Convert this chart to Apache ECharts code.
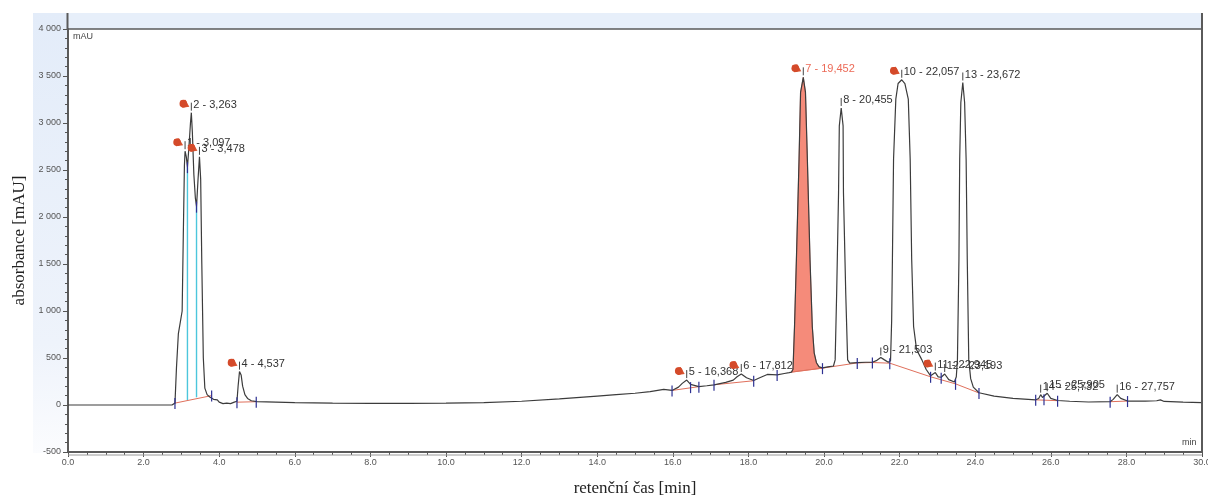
<!DOCTYPE html>
<html>
<head>
<meta charset="utf-8">
<script src="https://cdn.jsdelivr.net/npm/echarts@6/dist/echarts.min.js"></script>
<style>
  html, body { margin: 0; padding: 0; background: #ffffff; }
  #chart { width: 1208px; height: 496px; }
</style>
</head>
<body>
<div id="chart"></div>
<script>
// Chromatogram trace: retention time [min] and absorbance [mAU]
const traceTime = [
  0.00, 2.75, 2.80, 2.83, 2.87, 2.92, 2.97, 3.02, 3.05, 3.08, 3.097, 3.13, 3.16, 3.20, 3.24, 3.263,
  3.29, 3.33, 3.37, 3.40, 3.44, 3.478, 3.51, 3.54, 3.58, 3.62, 3.68, 3.75, 3.80, 3.85, 3.90, 3.95,
  4.00, 4.10, 4.20, 4.30, 4.40, 4.47, 4.50, 4.537, 4.58, 4.62, 4.68, 4.75, 4.85, 5.00, 5.50, 6.00,
  7.00, 8.00, 9.00, 10.00, 11.00, 12.00, 13.00, 14.00, 14.50, 15.00, 15.40, 15.76, 15.98, 16.15,
  16.25, 16.368, 16.47, 16.69, 16.90, 17.09, 17.40, 17.60, 17.70, 17.812, 17.95, 18.14, 18.30, 18.50,
  18.76, 18.95, 19.08, 19.14, 19.18, 19.22, 19.27, 19.34, 19.38, 19.452, 19.51, 19.56, 19.63, 19.69,
  19.74, 19.80, 19.87, 19.96, 20.10, 20.25, 20.295, 20.335, 20.385, 20.405, 20.455, 20.505, 20.515,
  20.575, 20.625, 20.68, 20.88, 21.10, 21.28, 21.40, 21.503, 21.60, 21.70, 21.76, 21.79, 21.81,
  21.84, 21.90, 21.96, 22.057, 22.14, 22.23, 22.28, 22.32, 22.37, 22.45, 22.59, 22.70, 22.82,
  22.945, 23.02, 23.10, 23.193, 23.30, 23.45, 23.50, 23.53, 23.57, 23.59, 23.62, 23.672, 23.72,
  23.76, 23.79, 23.83, 23.88, 23.95, 24.10, 24.50, 25.00, 25.60, 25.68, 25.732, 25.78, 25.82,
  25.905, 26.00, 26.18, 26.50, 27.00, 27.57, 27.65, 27.757, 27.85, 28.03, 28.50, 28.80, 28.90,
  29.00, 29.50, 30.00
];
const traceMau = [
  0, 0, 5, 20, 400, 760, 880, 1000, 1800, 2550, 2700, 2640, 2530, 2750, 3000, 3110,
  2900, 2450, 2200, 2110, 2400, 2640, 2400, 1500, 500, 180, 110, 85, 95, 60, 40, 55,
  30, 15, 20, 15, 30, 40, 200, 355, 320, 200, 110, 70, 45, 35, 30, 25,
  20, 18, 18, 20, 25, 40, 65, 95, 110, 125, 142, 167, 155, 190,
  230, 265, 220, 195, 205, 215, 240, 265, 300, 330, 290, 260, 290, 325,
  320, 335, 345, 350, 380, 835, 1547, 2614, 3325, 3486, 3325, 2614, 1547, 835,
  555, 450, 405, 395, 405, 415, 480, 1191, 2258, 2970, 3160, 2970, 2258,
  1191, 480, 445, 450, 455, 455, 475, 505, 480, 455, 470, 900, 1547,
  2614, 3254, 3420, 3460, 3420, 3254, 2614, 1547, 835, 587, 480, 380, 310,
  345, 300, 295, 330, 270, 245, 300, 480, 1547, 2614, 3218, 3431, 3218,
  2614, 1547, 480, 280, 190, 130, 95, 70, 55, 70, 110, 80, 75,
  125, 70, 48, 40, 32, 35, 60, 110, 70, 42, 42, 45, 55,
  38, 30, 25
];

// Integrated peaks: number, retention time, apex height, flagged
const peakNo     = [1, 2, 3, 4, 5, 6, 7, 8, 9, 10, 11, 12, 13, 14, 15, 16];
const peakTime   = [3.097, 3.263, 3.478, 4.537, 16.368, 17.812, 19.452, 20.455, 21.503, 22.057, 22.945, 23.193, 23.672, 25.732, 25.905, 27.757];
const peakHeight = [2700, 3110, 2640, 355, 265, 330, 3486, 3160, 505, 3460, 345, 330, 3431, 110, 125, 110];
const peakFlag   = [true, true, true, true, true, true, true, false, false, true, true, false, false, false, false, false];
const selectedPeak = 7;

// Integration baselines (each list is one drawn baseline)
const baselines = [
  [[2.83, 20], [3.80, 100]],
  [[4.47, 30], [4.98, 35]],
  [[15.98, 155], [16.69, 195]],
  [[17.09, 215], [18.14, 258]],
  [[19.14, 350], [19.96, 392], [20.88, 448], [21.28, 452], [21.74, 445], [22.82, 300], [23.48, 225], [24.10, 128]],
  [[25.60, 55], [26.18, 46]],
  [[27.57, 35], [28.03, 42]]
];

// Peak start / end markers
const markTime = [2.83, 3.16, 3.40, 3.80, 4.47, 4.98, 15.98, 16.47, 16.69, 17.09, 18.14, 18.76, 19.96, 20.88, 21.28, 21.74, 22.82, 23.10, 23.48, 24.10, 25.60, 25.82, 26.18, 27.57, 28.03];
const markMau  = [20, 2530, 2110, 100, 30, 35, 155, 190, 195, 215, 258, 320, 392, 448, 452, 445, 300, 290, 225, 128, 55, 60, 46, 35, 42];

// Perpendicular drops between fused peaks 1-2-3
const dropTime = [3.16, 3.40];
const dropTop  = [2530, 2110];
const dropBase = [50, 82];

const yTicks = [-500, 0, 500, 1000, 1500, 2000, 2500, 3000, 3500, 4000];

function fmtThousands(v) {
  const s = Math.abs(v).toString().replace(/\B(?=(\d{3})+(?!\d))/g, ' ');
  return (v < 0 ? '-' : '') + s;
}

const traceData = traceTime.map((t, i) => [t, traceMau[i]]);

// Fill region of the selected peak: trace above its baseline
const fillStart = 19.14, fillEnd = 19.96;
const fillTrace = traceData.filter(p => p[0] >= fillStart && p[0] <= fillEnd);

const baselineSeries = baselines.map(seg => ({
  type: 'line',
  data: seg,
  symbol: 'none',
  silent: true,
  z: 4,
  lineStyle: { color: '#e0705c', width: 1 }
}));

const chart = echarts.init(document.getElementById('chart'), null, { renderer: 'canvas' });

const labelFont = '"Liberation Sans", Arial, sans-serif';

chart.setOption({
  animation: false,
  backgroundColor: '#ffffff',
  grid: { left: 68, right: 6, top: 29, bottom: 44, outerBoundsMode: 'none', containLabel: false },
  graphic: [
    {
      type: 'rect', z: -10, silent: true,
      shape: { x: 33, y: 13, width: 35, height: 440 },
      style: { fill: new echarts.graphic.LinearGradient(0, 0, 0, 1, [
        { offset: 0, color: '#e3ecf9' }, { offset: 0.75, color: '#eef3fb' }, { offset: 1, color: '#fbfcfe' }
      ]) }
    },
    {
      type: 'rect', z: -10, silent: true,
      shape: { x: 68, y: 13, width: 1134, height: 16 },
      style: { fill: '#e7effa' }
    },
    {
      type: 'line', silent: true, z: 50,
      shape: { x1: 68, y1: 29, x2: 1202, y2: 29 },
      style: { stroke: '#5a5a5a', lineWidth: 1.5 }
    },
    {
      type: 'line', silent: true, z: 50,
      shape: { x1: 1202, y1: 13, x2: 1202, y2: 453 },
      style: { stroke: '#5a5a5a', lineWidth: 2 }
    },
    {
      type: 'line', silent: true, z: 50,
      shape: { x1: 67.5, y1: 13, x2: 67.5, y2: 30 },
      style: { stroke: '#5a5a5a', lineWidth: 2 }
    },
    {
      type: 'line', silent: true, z: 50,
      shape: { x1: 68, y1: 455, x2: 1202, y2: 455 },
      style: { stroke: '#9a9a9a', lineWidth: 1 }
    },
    {
      type: 'text', silent: true, z: 50, left: 73, top: 32,
      style: { text: 'mAU', fill: '#444', font: '9px ' + labelFont }
    },
    {
      type: 'text', silent: true, z: 50, left: 1182, top: 438,
      style: { text: 'min', fill: '#444', font: '9px ' + labelFont }
    }
  ],
  xAxis: {
    type: 'value', min: 0, max: 30, interval: 2,
    name: 'retenční čas [min]',
    nameLocation: 'middle', nameGap: 28,
    nameTextStyle: { fontFamily: '"Liberation Serif", "Times New Roman", serif', fontSize: 17, color: '#222' },
    axisLine: { show: true, onZero: false, lineStyle: { color: '#5a5a5a', width: 2 } },
    axisTick: { show: true, length: 5, lineStyle: { color: '#555' } },
    minorTick: { show: true, splitNumber: 4, length: 3, lineStyle: { color: '#555' } },
    axisLabel: { formatter: v => v.toFixed(1), fontSize: 9, color: '#555', margin: 6, fontFamily: labelFont },
    splitLine: { show: false }
  },
  yAxis: {
    type: 'value', min: -500, max: 4000, interval: 500,
    name: 'absorbance [mAU]',
    nameLocation: 'middle', nameGap: 40, nameRotate: 90,
    nameTextStyle: { fontFamily: '"Liberation Serif", "Times New Roman", serif', fontSize: 17, color: '#222' },
    axisLine: { show: true, onZero: false, lineStyle: { color: '#5a5a5a', width: 2 } },
    axisTick: { show: true, length: 5, lineStyle: { color: '#555' } },
    minorTick: { show: true, splitNumber: 5, length: 3, lineStyle: { color: '#555' } },
    axisLabel: {
      formatter: v => yTicks.includes(v) ? fmtThousands(v) : '',
      fontSize: 9, color: '#555', margin: 7, fontFamily: labelFont
    },
    splitLine: { show: false }
  },
  series: [
    // filled area of the selected peak
    {
      type: 'custom', silent: true, z: 3,
      data: [[fillStart, 0]],
      renderItem: function (params, api) {
        const pts = fillTrace.map(p => api.coord(p));
        const b = baselines[4];
        pts.push(api.coord([fillEnd, b[1][1]]));
        pts.push(api.coord([fillStart, b[0][1]]));
        return {
          type: 'polygon',
          shape: { points: pts },
          style: { fill: '#f58b7a', stroke: '#e06f5e', lineWidth: 0.8 }
        };
      }
    },
    ...baselineSeries,
    // perpendicular drop lines
    {
      type: 'custom', silent: true, z: 4,
      data: dropTime.map((t, i) => [t, dropTop[i], dropBase[i]]),
      renderItem: function (params, api) {
        const top = api.coord([api.value(0), api.value(1)]);
        const bot = api.coord([api.value(0), api.value(2)]);
        return {
          type: 'line',
          shape: { x1: top[0], y1: top[1], x2: bot[0], y2: bot[1] },
          style: { stroke: '#4cc6dc', lineWidth: 1.4 }
        };
      }
    },
    // trace
    {
      type: 'line', data: traceData, symbol: 'none', silent: true, z: 5,
      lineStyle: { color: '#3c3c3c', width: 1.2 }
    },
    // start / end markers
    {
      type: 'custom', silent: true, z: 6,
      data: markTime.map((t, i) => [t, markMau[i]]),
      renderItem: function (params, api) {
        const p = api.coord([api.value(0), api.value(1)]);
        return {
          type: 'line',
          shape: { x1: p[0], y1: p[1] - 5, x2: p[0], y2: p[1] + 6 },
          style: { stroke: '#2e3192', lineWidth: 1.2 }
        };
      }
    },
    // peak labels with flags
    {
      type: 'custom', silent: true, z: 10,
      data: peakTime.map((t, i) => [t, peakHeight[i]]),
      renderItem: function (params, api) {
        const i = params.dataIndex;
        const p = api.coord([api.value(0), api.value(1)]);
        const isSel = peakNo[i] === selectedPeak;
        const txt = peakNo[i] + ' - ' + peakTime[i].toFixed(3).replace('.', ',');
        const children = [
          {
            type: 'line',
            shape: { x1: p[0], y1: p[1] - 2, x2: p[0], y2: p[1] - 10 },
            style: { stroke: '#444', lineWidth: 1 }
          },
          {
            type: 'text',
            x: p[0] + 2, y: p[1] - 8,
            style: {
              text: txt, fill: isSel ? '#ec6a57' : '#333',
              font: '11px ' + labelFont,
              verticalAlign: 'middle', align: 'left'
            }
          }
        ];
        if (peakFlag[i]) {
          children.push({
            type: 'polygon',
            shape: { points: [[p[0] - 11, p[1] - 12], [p[0] - 6, p[1] - 13], [p[0] - 2, p[1] - 6], [p[0] - 9, p[1] - 5]] },
            style: { fill: '#d9532f' }
          });
          children.push({
            type: 'circle',
            shape: { cx: p[0] - 8, cy: p[1] - 9, r: 3.8 },
            style: { fill: '#d44a2a' }
          });
        }
        return { type: 'group', children: children };
      }
    }
  ]
});
</script>
</body>
</html>
